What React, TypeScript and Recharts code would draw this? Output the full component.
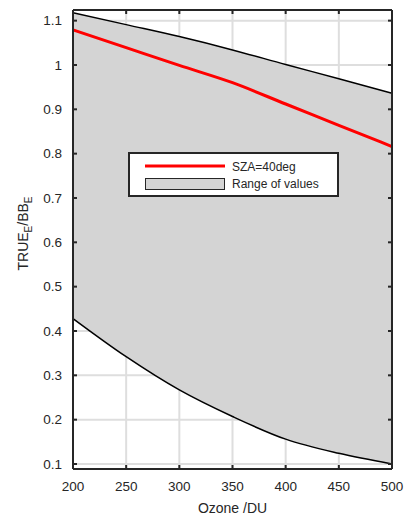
import React from 'react';
import { ComposedChart, Area, Line, XAxis, YAxis, CartesianGrid, Legend } from 'recharts';

// values
const ozone = [200, 250, 300, 350, 400, 450, 500];
const sza40 = [1.079, 1.039, 0.999, 0.96, 0.912, 0.864, 0.816];
const upperBound = [1.118, 1.091, 1.064, 1.034, 1.001, 0.969, 0.936];
const lowerBound = [0.428, 0.342, 0.267, 0.207, 0.156, 0.124, 0.1];

const xTicks = [200, 250, 300, 350, 400, 450, 500];
const yTicks = [0.1, 0.2, 0.3, 0.4, 0.5, 0.6, 0.7, 0.8, 0.9, 1, 1.1];
const Y_DOMAIN: [number, number] = [0.0887, 1.124];

const FONT = '"Liberation Sans", Arial, Helvetica, sans-serif';
const AXIS = '#262626';
const BAND = '#d4d4d4';

const data = ozone.map((o, i) => ({
    ozone: o,
    sza: sza40[i],
    upper: upperBound[i],
    lower: lowerBound[i],
    range: [lowerBound[i], upperBound[i]],
}));

const renderLegend = () => (
    <svg width={211} height={45} style={{ display: 'block' }}>
        <rect x={1} y={1} width={209} height={43} fill="#fff" stroke={AXIS} strokeWidth={2} />
        <line x1={17} x2={97} y1={14} y2={14} stroke="#ff0000" strokeWidth={3} />
        <rect x={17.5} y={26.5} width={79} height={11} fill={BAND} stroke={AXIS} strokeWidth={1} />
        <text x={104} y={18.5} fontFamily={FONT} fontSize={12} fill={AXIS}>SZA=40deg</text>
        <text x={104} y={36} fontFamily={FONT} fontSize={12} fill={AXIS}>Range of values</text>
    </svg>
);

const YLabel = (props: any) => {
    const vb = props.viewBox || { x: 0, y: 0, height: 0 };
    const cx = 28;
    const cy = vb.y + vb.height / 2 - 6;
    return (
        <text
            x={cx}
            y={cy}
            transform={`rotate(-90, ${cx}, ${cy})`}
            textAnchor="middle"
            fontFamily={FONT}
            fontSize={14}
            fill={AXIS}
        >
            TRUE<tspan fontSize={10} dy={4}>E</tspan>
            <tspan dy={-4}>/BB</tspan>
            <tspan fontSize={10} dy={4}>E</tspan>
        </text>
    );
};

const tickStyle = { fill: AXIS, fontSize: 13.5, fontFamily: FONT };
const lineStyle = { stroke: AXIS, strokeWidth: 2 };

const App: React.FC = () => {
    return (
        <div style={{ position: 'absolute', left: 0, top: 0, background: '#fff' }}>
            <ComposedChart
                width={416}
                height={517}
                data={data}
                margin={{ top: 9, right: 23, bottom: 0, left: 0 }}
            >
                <CartesianGrid stroke="#dedede" strokeWidth={2} />
                <Area
                    dataKey="range"
                    type="monotone"
                    fill={BAND}
                    fillOpacity={1}
                    stroke="none"
                    isAnimationActive={false}
                />
                <Line dataKey="upper" type="monotone" stroke="#000" strokeWidth={1.5} dot={false} isAnimationActive={false} />
                <Line dataKey="lower" type="monotone" stroke="#000" strokeWidth={1.5} dot={false} isAnimationActive={false} />
                <Line dataKey="sza" type="monotone" stroke="#ff0000" strokeWidth={3} dot={false} isAnimationActive={false} />
                <XAxis
                    dataKey="ozone"
                    type="number"
                    domain={[200, 500]}
                    ticks={xTicks}
                    height={48}
                    tick={tickStyle}
                    tickSize={-4}
                    tickMargin={16}
                    axisLine={lineStyle}
                    tickLine={lineStyle}
                    label={{ value: 'Ozone /DU', position: 'insideBottom', offset: 4, fill: AXIS, fontSize: 14, fontFamily: FONT }}
                />
                <XAxis
                    xAxisId="top"
                    orientation="top"
                    dataKey="ozone"
                    type="number"
                    domain={[200, 500]}
                    ticks={xTicks}
                    height={1}
                    tickFormatter={() => ''}
                    tickSize={-4}
                    axisLine={lineStyle}
                    tickLine={lineStyle}
                />
                <YAxis
                    type="number"
                    domain={Y_DOMAIN}
                    allowDataOverflow
                    ticks={yTicks}
                    width={73}
                    tick={tickStyle}
                    tickSize={-4}
                    tickMargin={15}
                    axisLine={lineStyle}
                    tickLine={lineStyle}
                    label={{ content: <YLabel /> }}
                />
                <YAxis
                    yAxisId="right"
                    orientation="right"
                    type="number"
                    domain={Y_DOMAIN}
                    allowDataOverflow
                    ticks={yTicks}
                    width={1}
                    tickFormatter={() => ''}
                    tickSize={-4}
                    axisLine={lineStyle}
                    tickLine={lineStyle}
                />
                <Legend
                    verticalAlign="middle"
                    layout="horizontal"
                    content={renderLegend}
                    wrapperStyle={{ left: 128, top: 152, width: 211, height: 45 }}
                />
            </ComposedChart>
        </div>
    );
};

export default App;
